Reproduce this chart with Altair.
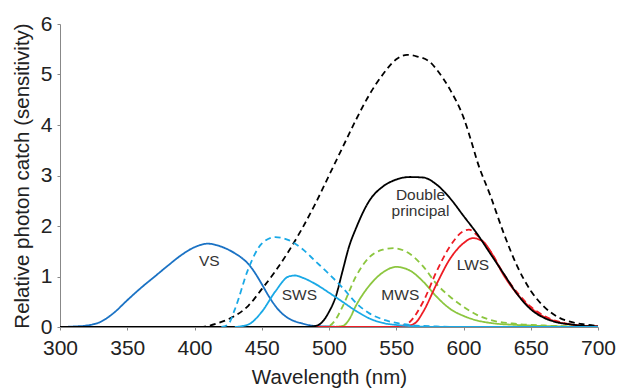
import altair as alt
import pandas as pd

# ---- data ----
vs_wl = [300, 310, 320, 330, 340, 350, 360, 370, 380, 390, 400, 410, 420, 430, 435, 440, 445, 450, 455, 460, 465, 470, 480, 490, 500, 510, 520]
vs_val = [0, 0.01, 0.03, 0.1, 0.28, 0.53, 0.77, 0.99, 1.21, 1.42, 1.58, 1.65, 1.59, 1.46, 1.37, 1.25, 1.07, 0.85, 0.62, 0.42, 0.27, 0.17, 0.07, 0.02, 0.01, 0, 0]

sws_wl = [430, 440, 450, 460, 470, 475, 480, 490, 500, 510, 520, 530, 540, 550, 560, 580, 600, 700]
sws_val = [0, 0.05, 0.3, 0.7, 1.0, 1.02, 0.98, 0.85, 0.68, 0.5, 0.32, 0.17, 0.08, 0.04, 0.02, 0, 0, 0]

swsd_wl = [420, 425, 430, 440, 450, 460, 470, 480, 490, 500, 510, 520, 530, 540, 550, 560, 580, 600, 700]
swsd_val = [0, 0.05, 0.35, 1.15, 1.65, 1.78, 1.72, 1.55, 1.3, 1.05, 0.78, 0.48, 0.27, 0.15, 0.08, 0.04, 0.01, 0, 0]

mws_wl = [300, 500, 510, 515, 520, 530, 540, 550, 560, 570, 580, 590, 600, 610, 620, 640, 660, 680, 700]
mws_val = [0, 0, 0.02, 0.15, 0.42, 0.82, 1.08, 1.19, 1.12, 0.9, 0.6, 0.36, 0.22, 0.13, 0.08, 0.04, 0.02, 0.01, 0]

mwsd_wl = [300, 495, 500, 505, 510, 520, 530, 540, 548, 560, 570, 580, 590, 600, 610, 620, 640, 660, 680, 700]
mwsd_val = [0, 0, 0.02, 0.15, 0.4, 1.0, 1.38, 1.53, 1.56, 1.45, 1.2, 0.85, 0.6, 0.4, 0.24, 0.14, 0.06, 0.03, 0.01, 0]

lws_wl = [300, 550, 560, 565, 570, 580, 590, 600, 607, 615, 620, 630, 640, 650, 660, 670, 680, 690, 700]
lws_val = [0, 0, 0.03, 0.1, 0.3, 0.85, 1.35, 1.66, 1.76, 1.68, 1.5, 1.02, 0.65, 0.38, 0.2, 0.1, 0.05, 0.02, 0.01]

lwsd_wl = [300, 550, 555, 560, 570, 580, 590, 600, 604, 610, 620, 630, 640, 650, 660, 670, 680, 690, 700]
lwsd_val = [0, 0, 0.03, 0.1, 0.5, 1.1, 1.6, 1.9, 1.93, 1.82, 1.5, 1.05, 0.68, 0.4, 0.22, 0.11, 0.05, 0.02, 0.01]

dbl_wl = [300, 480, 490, 495, 500, 505, 510, 515, 520, 530, 540, 550, 560, 570, 580, 590, 600, 610, 620, 630, 640, 650, 660, 670, 680, 690, 700]
dbl_val = [0, 0, 0.02, 0.1, 0.3, 0.6, 1.1, 1.6, 1.95, 2.5, 2.78, 2.92, 2.97, 2.96, 2.82, 2.55, 2.2, 1.85, 1.45, 1.05, 0.65, 0.35, 0.18, 0.09, 0.05, 0.02, 0.01]

dbld_wl = [300, 405, 410, 420, 430, 440, 450, 460, 470, 480, 490, 500, 510, 520, 530, 540, 550, 558, 565, 575, 580, 590, 600, 607, 610, 620, 630, 640, 650, 660, 670, 680, 690, 700]
dbld_val = [0, 0, 0.02, 0.1, 0.22, 0.42, 0.75, 1.1, 1.5, 1.95, 2.45, 3.0, 3.55, 4.1, 4.6, 5.0, 5.3, 5.39, 5.36, 5.25, 5.1, 4.7, 4.15, 3.57, 3.3, 2.6, 1.85, 1.2, 0.72, 0.4, 0.2, 0.1, 0.05, 0.02]

label_text = ["VS", "SWS", "Double", "principal", "MWS", "LWS"]
label_x = [411, 478, 568, 568, 553, 607]
label_y = [1.31, 0.63, 2.61, 2.30, 0.63, 1.23]

x_ticks = [300, 350, 400, 450, 500, 550, 600, 650, 700]
y_ticks = [0, 1, 2, 3, 4, 5, 6]

FONT = "Liberation Sans"

xscale = alt.Scale(domain=[300, 700], nice=False)
yscale = alt.Scale(domain=[0, 6], nice=False)

xaxis = alt.Axis(values=x_ticks, title="Wavelength (nm)", grid=False, labelFontSize=21,
                 titleFontSize=20.5, labelFont=FONT, titleFont=FONT, labelColor="#222",
                 titleColor="#222", titleFontWeight="normal", domainColor="#888",
                 tickColor="#888", tickSize=3, labelPadding=7, titlePadding=9,
                 labelFlush=False)
yaxis = alt.Axis(values=y_ticks, title="Relative photon catch (sensitivity)", grid=False,
                 labelFontSize=21, titleFontSize=20.5, labelFont=FONT, titleFont=FONT,
                 labelColor="#222", titleColor="#222", titleFontWeight="normal",
                 domainColor="#888", tickColor="#888", tickSize=3, labelPadding=5,
                 titlePadding=8, labelFlush=False)

X = alt.X("wl:Q", scale=xscale, axis=xaxis)
Y = alt.Y("v:Q", scale=yscale, axis=yaxis)


def series(wl, val, color, dashed=False):
    df = pd.DataFrame({"wl": wl, "v": val})
    return alt.Chart(df).mark_line(
        color=color, strokeWidth=1.8, interpolate="monotone",
        strokeDash=[6, 4] if dashed else [1, 0], clip=True
    ).encode(x=X, y=Y)


BLUE = "#1a72c4"
CYAN = "#1aa9e6"
GREEN = "#8cc63f"
RED = "#ee1c24"
BLACK = "#000000"

layers = [
    series(vs_wl, vs_val, BLUE),
    series(mwsd_wl, mwsd_val, GREEN, dashed=True),
    series(mws_wl, mws_val, GREEN),
    series(lwsd_wl, lwsd_val, RED, dashed=True),
    series(lws_wl, lws_val, RED),
    series(dbld_wl, dbld_val, BLACK, dashed=True),
    series(dbl_wl, dbl_val, BLACK),
    series(swsd_wl, swsd_val, CYAN, dashed=True),
    series(sws_wl, sws_val, CYAN),
]

labels_df = pd.DataFrame({"t": label_text, "wl": label_x, "v": label_y})
labels = alt.Chart(labels_df).mark_text(
    font=FONT, fontSize=15.5, color="#333", align="center", baseline="middle"
).encode(x=X, y=Y, text="t:N")

chart = alt.layer(*layers, labels).properties(
    width=538, height=303,
    autosize=alt.AutoSizeParams(type="none"),
    padding={"left": 60, "top": 24, "right": 20, "bottom": 63},
).configure(background="white").configure_view(stroke=None)

chart.save("out.html", embed_options={"renderer": "svg", "actions": False})
